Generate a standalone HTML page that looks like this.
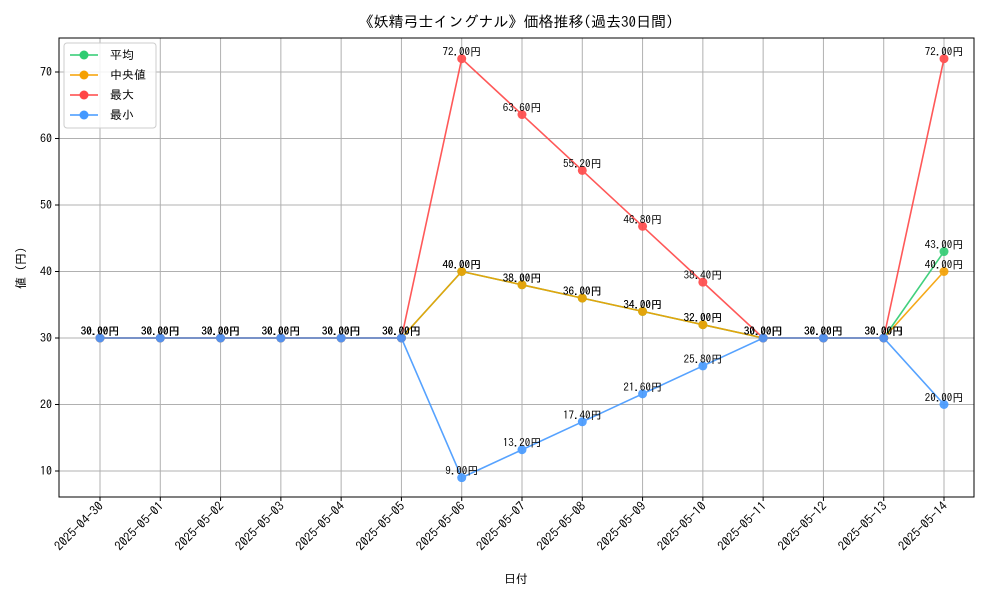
<!DOCTYPE html>
<html><head><meta charset="utf-8"><style>
body{margin:0;background:#fff;}
svg{font-family:"IPAGothic","Liberation Sans","Noto Sans CJK JP",sans-serif;}
</style></head><body>
<svg id="chart" width="1000" height="600" xmlns="http://www.w3.org/2000/svg">
<rect width="1000" height="600" fill="#fff"/>
<text x="516" y="27" text-anchor="middle" font-size="15">《妖精弓士イングナル》価格推移(過去30日間)</text>
<g id="grid"></g>
<g id="series"></g>
<rect x="59" y="38" width="915" height="459" fill="none" stroke="#000" stroke-width="1"/>
<text x="516" y="583" text-anchor="middle" font-size="12">日付</text>
<text transform="translate(25,268) rotate(-90)" text-anchor="middle" font-size="12">値 (円)</text>
<g id="legend"></g>
</svg>
<script>
const dates=["2025-04-30","2025-05-01","2025-05-02","2025-05-03","2025-05-04","2025-05-05","2025-05-06","2025-05-07","2025-05-08","2025-05-09","2025-05-10","2025-05-11","2025-05-12","2025-05-13","2025-05-14"];
const meanVals=[30,30,30,30,30,30,40,38,36,34,32,30,30,30,43];
const medianVals=[30,30,30,30,30,30,40,38,36,34,32,30,30,30,40];
const maxVals=[30,30,30,30,30,30,72,63.6,55.2,46.8,38.4,30,30,30,72];
const minVals=[30,30,30,30,30,30,9,13.2,17.4,21.6,25.8,30,30,30,20];
const yTicks=[10,20,30,40,50,60,70];
const seriesNames=["平均","中央値","最大","最小"];
const NS="http://www.w3.org/2000/svg";
const X=i=>100+i*(844/14);
const Y=v=>537.5-v*6.65;
function mk(t,a,p){const e=document.createElementNS(NS,t);for(const k in a)e.setAttribute(k,a[k]);p.appendChild(e);return e;}
const grid=document.getElementById('grid');
yTicks.forEach(v=>{
  const l=mk('line',{x1:59,x2:974,y1:Y(v),y2:Y(v),stroke:'#b0b0b0','stroke-width':1},grid);
  
  
  mk('line',{x1:55,x2:59,y1:Y(v),y2:Y(v),stroke:'#000'},grid);
  const t=mk('text',{x:52,y:Y(v)+4,'text-anchor':'end','font-size':12},grid);
  
  
  t.textContent=v;
});
dates.forEach((d,i)=>{
  const l=mk('line',{x1:X(i),x2:X(i),y1:38,y2:497,stroke:'#b0b0b0','stroke-width':1},grid);
  
  
  mk('line',{x1:X(i),x2:X(i),y1:497,y2:501,stroke:'#000'},grid);
  const t=mk('text',{transform:`translate(${X(i)+4},${507}) rotate(-45)`,'text-anchor':'end','font-size':12.5},grid);
  
  
  t.textContent=d;
});
const series=[[meanVals,'#2ecc71','mean'],[medianVals,'#f5a000','median'],[maxVals,'#ff4747','max'],[minVals,'#4499ff','min']];
const sg=document.getElementById('series');
series.forEach(([vals,c,n])=>{
  const g=mk('g',{opacity:0.9},sg);
  
  
  const pl=mk('polyline',{points:vals.map((v,i)=>X(i)+','+Y(v)).join(' '),fill:'none',stroke:c,'stroke-width':1.6},g);
  
  
  vals.forEach((v,i)=>{
    const p=mk('circle',{cx:X(i),cy:Y(v),r:4.5,fill:c},g);
    
    
  });
});
series.forEach(([vals,c,n])=>{
  vals.forEach((v,i)=>{
    const t=mk('text',{x:X(i),y:Y(v)-3,'text-anchor':'middle','font-size':11,fill:'#000'},sg);
    
    
    t.textContent=v.toFixed(2)+'円';
  });
});
const lg=document.getElementById('legend');
mk('rect',{x:64,y:43,width:92,height:85,rx:3,fill:'#fff','fill-opacity':0.85,stroke:'#ccc'},lg);
series.forEach(([v,c,n],k)=>{
  const y=55+k*20;
  const g=mk('g',{},lg);
  
  
  mk('line',{x1:70,x2:98,y1:y,y2:y,stroke:c,'stroke-width':1.6},g);
  mk('circle',{cx:84,cy:y,r:4.5,fill:c},g);
  const t=mk('text',{x:110,y:y+4,'font-size':12},g);
  t.textContent=seriesNames[k];
});
</script>
</body></html>
